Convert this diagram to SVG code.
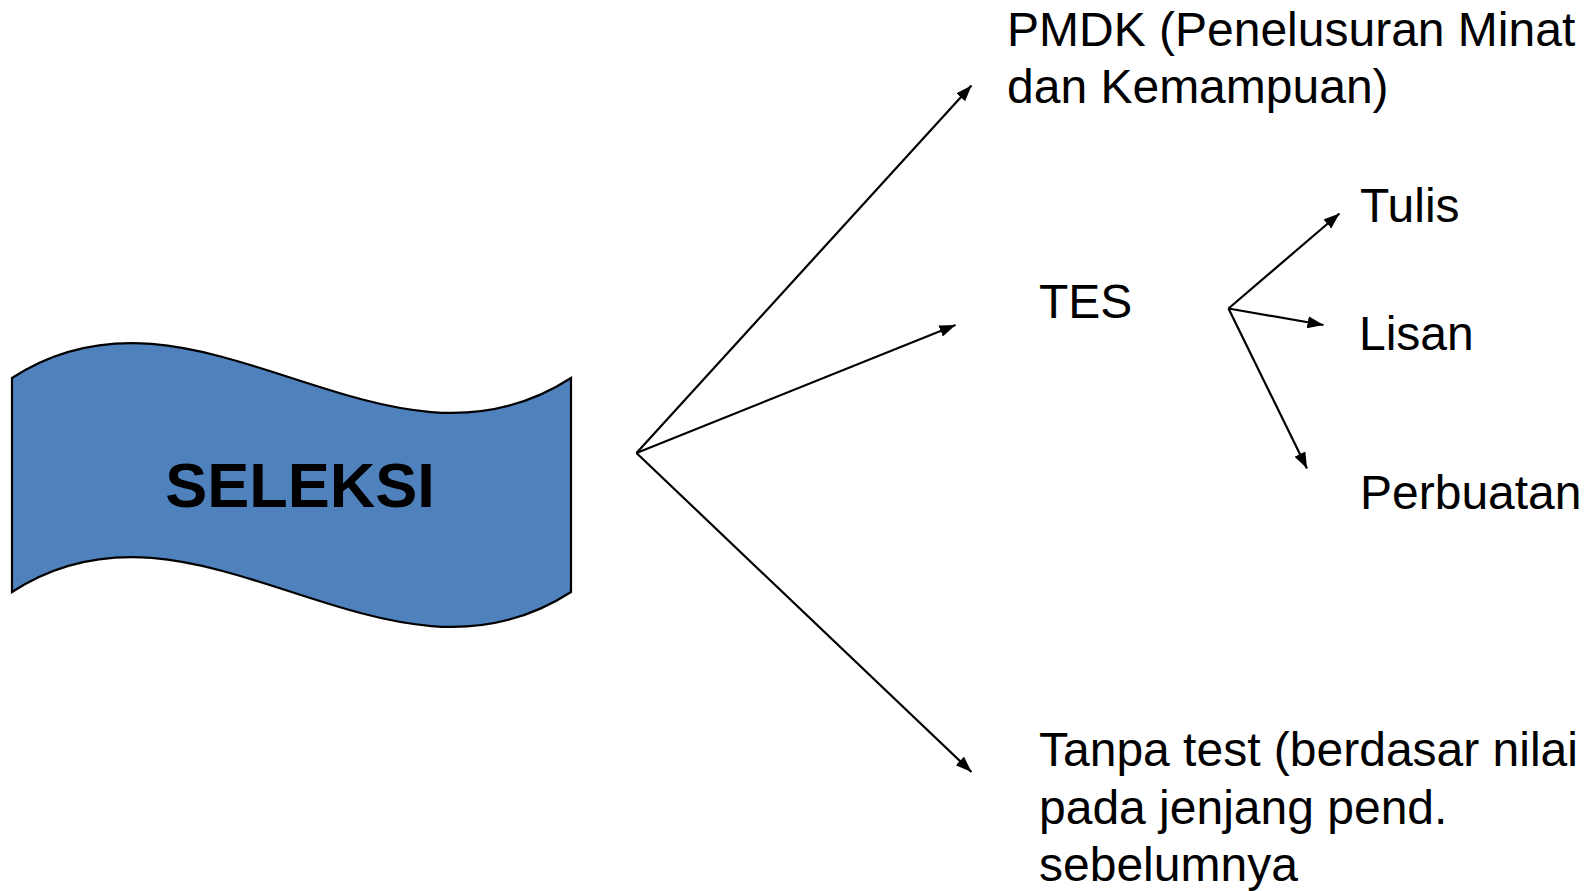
<svg xmlns="http://www.w3.org/2000/svg" width="1591" height="891" viewBox="0 0 1591 891">
  <defs>
    <marker id="arrow" markerUnits="userSpaceOnUse" markerWidth="18" markerHeight="14" refX="16" refY="6" orient="auto">
      <path d="M0,0 L16,6 L0,12 z" fill="#000"/>
    </marker>
    <style>
      .lbl { font-family: "Liberation Sans", Arial, sans-serif; font-size: 48px; fill: #000; }
      .title { font-family: "Liberation Sans", Arial, sans-serif; font-size: 63px; font-weight: bold; fill: #000; }
      .edge { stroke: #000; stroke-width: 2.2; fill: none; marker-end: url(#arrow); }
    </style>
  </defs>
  <rect width="1591" height="891" fill="#fff"/>

  <!-- main wave banner -->
  <g id="seleksi">
    <path d="M12,378 C198.3,257 384.7,499 571,378 L571,592 C384.7,713 198.3,471 12,592 Z" fill="#4F81BD" stroke="#000" stroke-width="2.2"/>
    <text class="title" x="300" y="507" text-anchor="middle">SELEKSI</text>
  </g>

  <g id="pmdk">
    <text class="lbl" x="1007" y="46">PMDK (Penelusuran Minat</text>
    <text class="lbl" x="1007" y="103">dan Kemampuan)</text>
  </g>

  <g id="tes">
    <text class="lbl" x="1039" y="318">TES</text>
  </g>

  <g id="tulis">
    <text class="lbl" x="1360" y="222">Tulis</text>
  </g>

  <g id="lisan">
    <text class="lbl" x="1359" y="350">Lisan</text>
  </g>

  <g id="perbuatan">
    <text class="lbl" x="1360" y="509">Perbuatan</text>
  </g>

  <g id="tanpa-test">
    <text class="lbl" x="1039" y="766">Tanpa test (berdasar nilai</text>
    <text class="lbl" x="1039" y="824">pada jenjang pend.</text>
    <text class="lbl" x="1039" y="881">sebelumnya</text>
  </g>

  <!-- connectors -->
  <g id="connectors">
    <line class="edge" x1="636.5" y1="453" x2="971.5" y2="85.5"/>
    <line class="edge" x1="636.5" y1="453" x2="955.5" y2="325"/>
    <line class="edge" x1="636.5" y1="453" x2="971.5" y2="772"/>
    <line class="edge" x1="1228.5" y1="308.5" x2="1339.5" y2="213.5"/>
    <line class="edge" x1="1228.5" y1="308.5" x2="1323.5" y2="325"/>
    <line class="edge" x1="1228.5" y1="308.5" x2="1307" y2="468.5"/>
  </g>
</svg>
